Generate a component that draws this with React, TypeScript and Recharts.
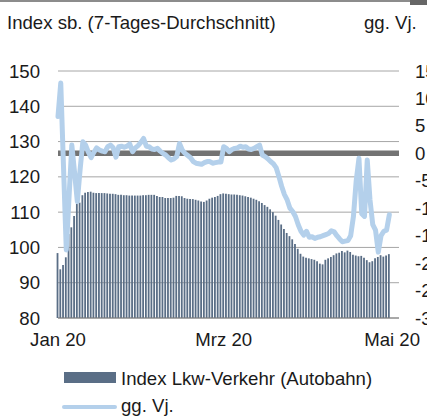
import { ComposedChart, Bar, Line, XAxis, YAxis, CartesianGrid, ReferenceLine } from 'recharts';

// days since 1 Jan 2020
const indexLkw = [
  98.4, 93.8, 95.0, 97.2, 103.8, 105.7, 108.9, 112.3, 112.7, 114.8,
  115.5, 115.7, 115.8, 115.5, 115.4, 115.4, 115.4, 115.4, 115.3, 115.2,
  115.2, 115.1, 114.9, 114.9, 114.8, 114.8, 114.7, 114.7, 114.7, 114.7,
  114.7, 114.8, 114.8, 114.9, 114.9, 114.9, 114.6, 114.3, 114.3, 114.0,
  114.0, 114.0, 114.1, 114.6, 114.6, 114.5, 114.0, 113.8, 113.7, 113.7,
  113.5, 113.3, 113.0, 112.9, 113.3, 113.8, 114.1, 114.3, 114.6, 115.1,
  115.3, 115.2, 115.1, 115.0, 115.0, 114.9, 114.8, 114.7, 114.5, 114.3,
  114.1, 113.8, 113.5, 113.1, 112.6, 112.0, 111.5, 110.8, 110.0, 109.0,
  107.8, 106.5, 105.2, 104.1, 103.2, 102.3, 101.0, 99.6, 98.2, 97.4,
  97.1, 96.9, 96.7, 96.5, 96.1, 95.4, 95.2, 96.5, 96.9, 97.3,
  97.8, 98.3, 98.5, 99.0, 98.6, 99.1, 98.7, 97.9, 97.7, 97.5,
  97.6, 97.1, 96.4, 95.8, 96.1, 96.9, 97.3, 97.8, 97.4, 97.7,
  98.1,
];

const ggVj = [
  6.7, 12.8, -2.5, -17.6, -8, 1.5, -3.5, -8.8, -3, 2.1,
  1.5, 0.2, -0.8, 0.2, 1.0, 0.6, 0.4, 0.3, 1.2, 1.5,
  1.0, -0.7, 1.2, 1.3, 1.1, 1.3, 1.7, 0.3, 1.0, 1.4,
  2.0, 2.7, 1.3, 1.2, 0.8, 0.7, 0.9, 0.4, 0.0, -0.3,
  -0.8, -1.2, -1.0, -0.6, 1.8, 0.6, 0.0, -0.4, -0.8, -1.5,
  -1.8, -1.9, -2.0, -1.7, -1.5, -1.5, -1.8, -1.7, -1.6, -1.6,
  1.2, 0.9, 0.3, 0.7, 0.9, 1.0, 1.3, 1.1, 1.2, 0.8,
  0.7, 0.9, 1.2, 1.5, -0.3, -0.6, -1.0, -1.5, -1.9, -2.6,
  -4.2, -6.0, -7.5, -8.5, -10.0, -10.6, -11.5, -13.0, -14.2, -14.9,
  -14.2, -15.3, -15.2, -15.5, -15.3, -15.2, -15.0, -14.8, -14.6, -14.1,
  -14.3, -15.0, -15.6, -16.1, -16.0, -15.9, -15.0, -11.5, -5.0, -0.9,
  -11.0, -11.5, -1.2, -8.5, -13.0, -14.0, -18.0, -15.0, -14.2, -14.0,
  -11.2,
];

const xTickDays = [0, 60, 121];
const xTickLabels = ['Jan 20', 'Mrz 20', 'Mai 20'];
const leftTicks = [80, 90, 100, 110, 120, 130, 140, 150];
const rightTicks = [-30, -25, -20, -15, -10, -5, 0, 5, 10, 15];

const data = indexLkw.map((v, i) => ({ day: i, index: v, yoy: ggVj[i] }));

const font = '"Liberation Sans", Arial, sans-serif';
const fs = 18.6;
const tick = { fill: '#1a1a1a', fontSize: fs, fontFamily: font };
const barColor = '#5a6e86';
const lineColor = '#b4d0eb';

export default function App() {
  return (
    <div style={{ position: 'absolute', left: 0, top: 0, width: 427, height: 417, overflow: 'hidden', background: '#fff', fontFamily: font, color: '#1a1a1a' }}>
      <div style={{ position: 'absolute', left: 0, top: 0, width: 427, height: 2, background: '#8c8c8c' }} />
      <div style={{ position: 'absolute', left: 410, top: 0, width: 17, height: 5, background: '#666' }} />
      <div style={{ position: 'absolute', left: 7, top: 13, fontSize: fs, lineHeight: '19px', whiteSpace: 'nowrap' }}>
        Index sb. (7-Tages-Durchschnitt)
      </div>
      <div style={{ position: 'absolute', left: 364, top: 13, fontSize: fs, lineHeight: '19px', whiteSpace: 'nowrap' }}>
        gg. Vj.
      </div>
      <ComposedChart width={460} height={417} data={data} margin={{ top: 71, right: 11, bottom: 69, left: 0 }}>
        <CartesianGrid yAxisId="left" horizontal vertical={false} stroke="#a6a6a6" />
        <XAxis
          dataKey="day"
          type="number"
          domain={[0, 123.5]}
          ticks={xTickDays}
          tickFormatter={(d: number) => xTickLabels[xTickDays.indexOf(d)]}
          height={30}
          tickLine={false}
          tickMargin={9}
          axisLine={{ stroke: '#7f7f7f' }}
          tick={tick}
          interval={0}
        />
        <YAxis yAxisId="left" domain={[80, 150]} ticks={leftTicks} width={58} axisLine={false} tickLine={false} tickMargin={12} tick={tick} />
        <YAxis yAxisId="right" orientation="right" domain={[-30, 15]} ticks={rightTicks} width={50} axisLine={false} tickLine={false} tickMargin={10} tick={{ ...tick, textAnchor: 'start' }} />
        <Bar yAxisId="left" dataKey="index" fill={barColor} barSize={1.8} isAnimationActive={false} />
        <ReferenceLine yAxisId="right" y={0} stroke="#737373" strokeWidth={5.5} />
        <Line
          yAxisId="right"
          dataKey="yoy"
          type="linear"
          stroke={lineColor}
          strokeWidth={5}
          strokeLinejoin="round"
          strokeLinecap="round"
          dot={false}
          isAnimationActive={false}
        />
      </ComposedChart>
      <div style={{ position: 'absolute', left: 64, top: 372, width: 52, height: 11, background: barColor }} />
      <div style={{ position: 'absolute', left: 121, top: 369, fontSize: fs, lineHeight: '19px', whiteSpace: 'nowrap' }}>
        Index Lkw-Verkehr (Autobahn)
      </div>
      <div style={{ position: 'absolute', left: 62, top: 405, width: 55, height: 4, borderRadius: 2, background: lineColor }} />
      <div style={{ position: 'absolute', left: 121, top: 396, fontSize: fs, lineHeight: '19px', whiteSpace: 'nowrap' }}>
        gg. Vj.
      </div>
    </div>
  );
}
